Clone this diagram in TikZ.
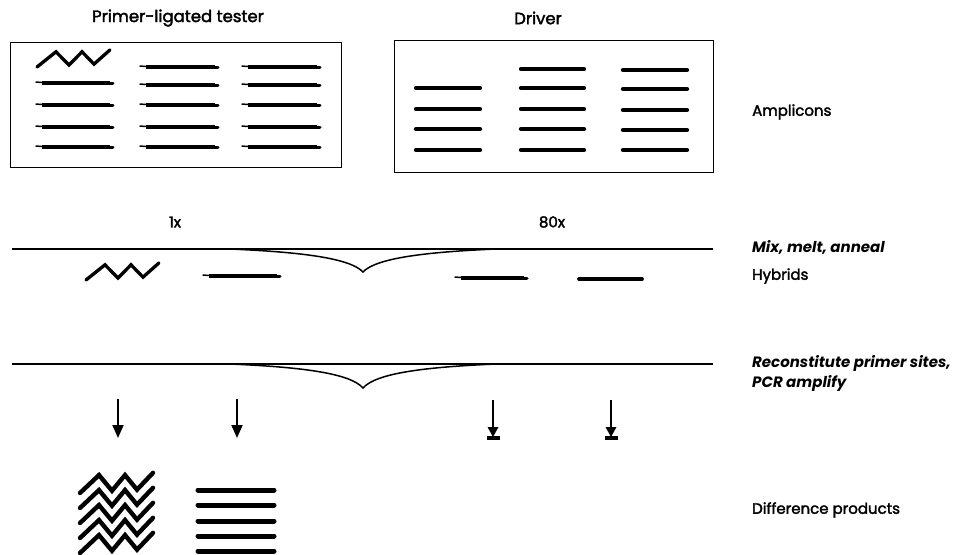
\documentclass[tikz,border=0pt]{standalone}
\usepackage{fontspec}
\setmainfont{Poppins}
\newfontfamily\labelfont{Poppins}[FakeBold=2.2]
\usetikzlibrary{arrows.meta}

% tester strand: thick duplex with a thin primer overhang on the left
\newcommand\testerstrand[3]{%
  \draw[line width=1.5pt, line cap=round] (#1,#3-0.9) -- (#1+9,#3-0.4);
  \draw[line width=3.4pt] (#1+6,#3) -- (#2-3,#3);
  \draw[line width=3pt, line cap=round] (#2-7,#3+0.6) -- (#2,#3+0.6);}
% blunt driver / product strand
\newcommand\bluntstrand[4][4.3pt]{%
  \draw[line width=#1, line cap=round] (#2,#4) -- (#3,#4);}
% zigzag fragment: start point, vertical scale, line width
\newcommand\zigfrag[4]{%
  \draw[line width=#4, line join=miter, line cap=round]
    (#1,#2) -- ++(19,-16*#3) -- ++(13,14*#3) -- ++(13,-14*#3)
    -- ++(12,13*#3) -- ++(16,-15*#3);}

\begin{document}
\begin{tikzpicture}[x=1pt, y=-1pt,
  lbl/.style={inner sep=0pt, font=\fontsize{15}{17}\labelfont},
  side/.style={lbl, anchor=west},
  sideit/.style={side, font=\fontsize{15}{20}\selectfont\bfseries\itshape, align=left},
  frame/.style={draw, line width=0.9pt},
  rule/.style={line width=1.6pt},
  brace/.style={line width=1.5pt},
  shaft/.style={line width=1.8pt},
  fwd/.style={shaft, -{Triangle[length=13pt, width=11pt]}}]

\useasboundingbox (0,0) rectangle (966,554);

% titles
\node[lbl, font=\fontsize{16.5}{18}\labelfont] (ttester) at (178,18) {Primer-ligated tester};
\node[lbl, font=\fontsize{16.5}{18}\labelfont] (tdriver) at (538,18) {Driver};

% amplicon boxes
\draw[frame] (10,42) rectangle (341,167);
\draw[frame] (394,40) rectangle (713,172);
\node[side] (amp) at (752,112) {Amplicons};

% tester contents
\zigfrag{37}{67}{0.95}{3.3pt}
\foreach \y in {83,105,127,147} \testerstrand{36}{113}{\y};
\foreach \y in {67,85,105,127,147} \testerstrand{140}{218}{\y};
\foreach \y in {67,85,105,127,147} \testerstrand{242}{320}{\y};

% driver contents
\foreach \y in {88,109,129,150} \bluntstrand{416}{480}{\y};
\foreach \y in {69,88,109,129,150} \bluntstrand{521}{584}{\y};
\foreach \y in {70,89,110,130,150} \bluntstrand{623}{687}{\y};

% ratios
\node[lbl] (r1) at (175,222) {1x};
\node[lbl] (r80) at (552,222) {80x};

% mix, melt, anneal
\draw[rule] (12,249) -- (713,249);
\draw[brace] (230,249) .. controls (300,252) and (350,258) .. (363,272)
             .. controls (376,258) and (426,252) .. (496,249);
\node[sideit] (mix) at (752,247) {Mix, melt, anneal};

% hybrids
\zigfrag{86}{280}{0.95}{3.3pt}
\testerstrand{203}{280}{276}
\testerstrand{455}{527}{278}
\bluntstrand[3.8pt]{579}{642}{279}
\node[side] (hyb) at (752,276) {Hybrids};

% reconstitute primer sites, amplify
\draw[rule] (12,364) -- (713,364);
\draw[brace] (230,364) .. controls (300,367) and (350,373) .. (363,388)
             .. controls (376,373) and (426,367) .. (496,364);
\node[sideit, anchor=north west] (pcr) at (752,355)
  {Reconstitute primer sites,\\PCR amplify};

% amplification arrows
\coordinate (a1s) at (118,399); \coordinate (a1e) at (118,438);
\coordinate (a2s) at (237,399); \coordinate (a2e) at (237,438);
\draw[fwd] (a1s) -- (a1e);
\draw[fwd] (a2s) -- (a2e);

% blocked arrows (driver strands are not amplified)
\foreach \x/\n in {493/b1, 611/b2} {
  \coordinate (\n s) at (\x,400);
  \coordinate (\n t) at (\x,437);
  \draw[shaft] (\n s) -- ++(0,30);
  \fill (\x-5.5,427) -- (\x+5.5,427) -- (\n t) -- cycle;
  \fill (\x-6.5,436) rectangle (\x+6.5,440);
}

% difference products
\foreach \k in {0,...,4} \zigfrag{80}{493+15*\k}{1.12}{4.4pt};
\foreach \y in {490,505,521,536,551} \bluntstrand[5pt]{198}{274}{\y};
\node[side] (diff) at (752,510) {Difference products};

\end{tikzpicture}
\end{document}
